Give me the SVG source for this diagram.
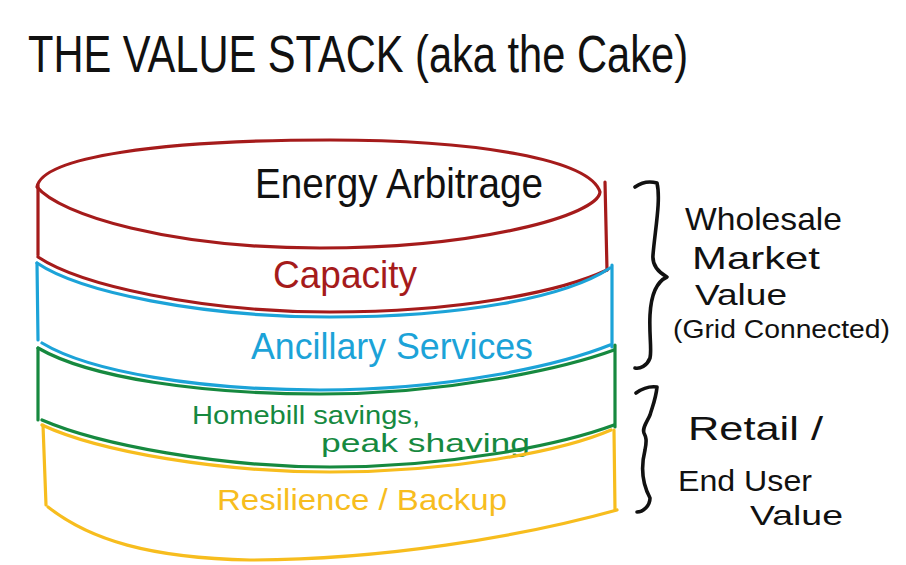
<svg xmlns="http://www.w3.org/2000/svg" width="906" height="565" viewBox="0 0 906 565">
<style>
.ln{fill:none;stroke-width:3.2;stroke-linecap:round;stroke-linejoin:round}
.red{stroke:#a51b1b}
.blue{stroke:#1ca3d8}
.green{stroke:#16893f}
.yellow{stroke:#f7bd1e}
.blk{stroke:#111;stroke-width:3.6}
.t{font-family:"Liberation Sans","DejaVu Sans",sans-serif;font-weight:normal}
</style>
<rect width="906" height="565" fill="#fff"/>
<text class="t" x="28" y="72" font-size="52" fill="#111" textLength="660" lengthAdjust="spacingAndGlyphs">THE VALUE STACK (aka the Cake)</text>

<g id="layer-energy-arbitrage">
<path class="ln red" d="M 37 187 C 42 157 160 140 330 140 C 480 140 590 160 600 192 C 598 215 480 248 320 248 C 170 248 60 215 37 187 Z"/>
<text class="t" x="255" y="198" font-size="42" fill="#111" textLength="288" lengthAdjust="spacingAndGlyphs">Energy Arbitrage</text>
</g>

<g id="layer-capacity">
<path class="ln red" d="M 38 185 L 38 255"/>
<path class="ln red" d="M 605 182 L 607 270"/>
<path class="ln red" d="M 38 257 C 80 285 200 312 330 312 C 460 312 560 292 607 270"/>
<text class="t" x="273" y="288" font-size="38" fill="#a51b1b" textLength="144" lengthAdjust="spacingAndGlyphs">Capacity</text>
</g>

<g id="layer-ancillary-services">
<path class="ln blue" d="M 37 263 C 80 292 200 317 330 317 C 460 317 565 298 610 268"/>
<path class="ln blue" d="M 37 263 L 38 340"/>
<path class="ln blue" d="M 612 265 L 612 347"/>
<path class="ln blue" d="M 42 343 C 90 372 200 390 320 390 C 450 390 560 365 610 345"/>
<text class="t" x="251" y="359" font-size="37" fill="#1ca3d8" textLength="282" lengthAdjust="spacingAndGlyphs">Ancillary Services</text>
</g>

<g id="layer-homebill-savings">
<path class="ln green" d="M 38 348 C 90 378 200 394 320 394 C 450 394 565 368 614 350"/>
<path class="ln green" d="M 38 348 L 38 420"/>
<path class="ln green" d="M 615 345 L 615 427"/>
<path class="ln green" d="M 42 420 C 100 445 220 467 330 467 C 450 467 560 445 614 425"/>
<text class="t" x="192" y="424" font-size="25" fill="#16893f" textLength="228" lengthAdjust="spacingAndGlyphs">Homebill savings,</text>
<text class="t" x="321" y="452" font-size="25" fill="#16893f" textLength="209" lengthAdjust="spacingAndGlyphs">peak shaving</text>
</g>

<g id="layer-resilience-backup">
<path class="ln yellow" d="M 42 425 C 100 452 220 472 330 472 C 450 472 560 452 611 430"/>
<path class="ln yellow" d="M 43 425 L 46 505"/>
<path class="ln yellow" d="M 614 430 L 615 510"/>
<path class="ln yellow" d="M 48 507 C 90 540 150 558 250 560 C 380 560 520 537 617 510"/>
<text class="t" x="217" y="510" font-size="30" fill="#f7bd1e" textLength="290" lengthAdjust="spacingAndGlyphs">Resilience / Backup</text>
</g>

<g id="wholesale-market-value">
<text class="t" x="685" y="230" font-size="32" fill="#111" textLength="157" lengthAdjust="spacingAndGlyphs">Wholesale</text>
<text class="t" x="692" y="269" font-size="32" fill="#111" textLength="128" lengthAdjust="spacingAndGlyphs">Market</text>
<text class="t" x="695" y="305" font-size="30" fill="#111" textLength="92" lengthAdjust="spacingAndGlyphs">Value</text>
<text class="t" x="673" y="338" font-size="26" fill="#111" textLength="217" lengthAdjust="spacingAndGlyphs">(Grid Connected)</text>
</g>

<g id="retail-end-user-value">
<text class="t" x="688" y="440" font-size="34" fill="#111" textLength="135" lengthAdjust="spacingAndGlyphs">Retail /</text>
<text class="t" x="678" y="491" font-size="30" fill="#111" textLength="134" lengthAdjust="spacingAndGlyphs">End User</text>
<text class="t" x="750" y="525" font-size="28" fill="#111" textLength="93" lengthAdjust="spacingAndGlyphs">Value</text>
</g>

<g id="connectors">
<path class="ln blk" d="M 635 187 C 642 182 650 181 657 183 C 661 200 655 230 653 255 C 652 265 658 272 667 277 C 656 282 651 295 650 315 C 649 335 652 350 650 358 C 647 366 640 369 635 368"/>
<path class="ln blk" d="M 636 393 C 643 388 650 386 657 387 C 656 398 653 405 650 415 C 647 422 642 428 644 433 C 646 437 647 440 645 450 C 640 470 643 485 650 498 C 650 506 643 512 637 512"/>
</g>
</svg>
